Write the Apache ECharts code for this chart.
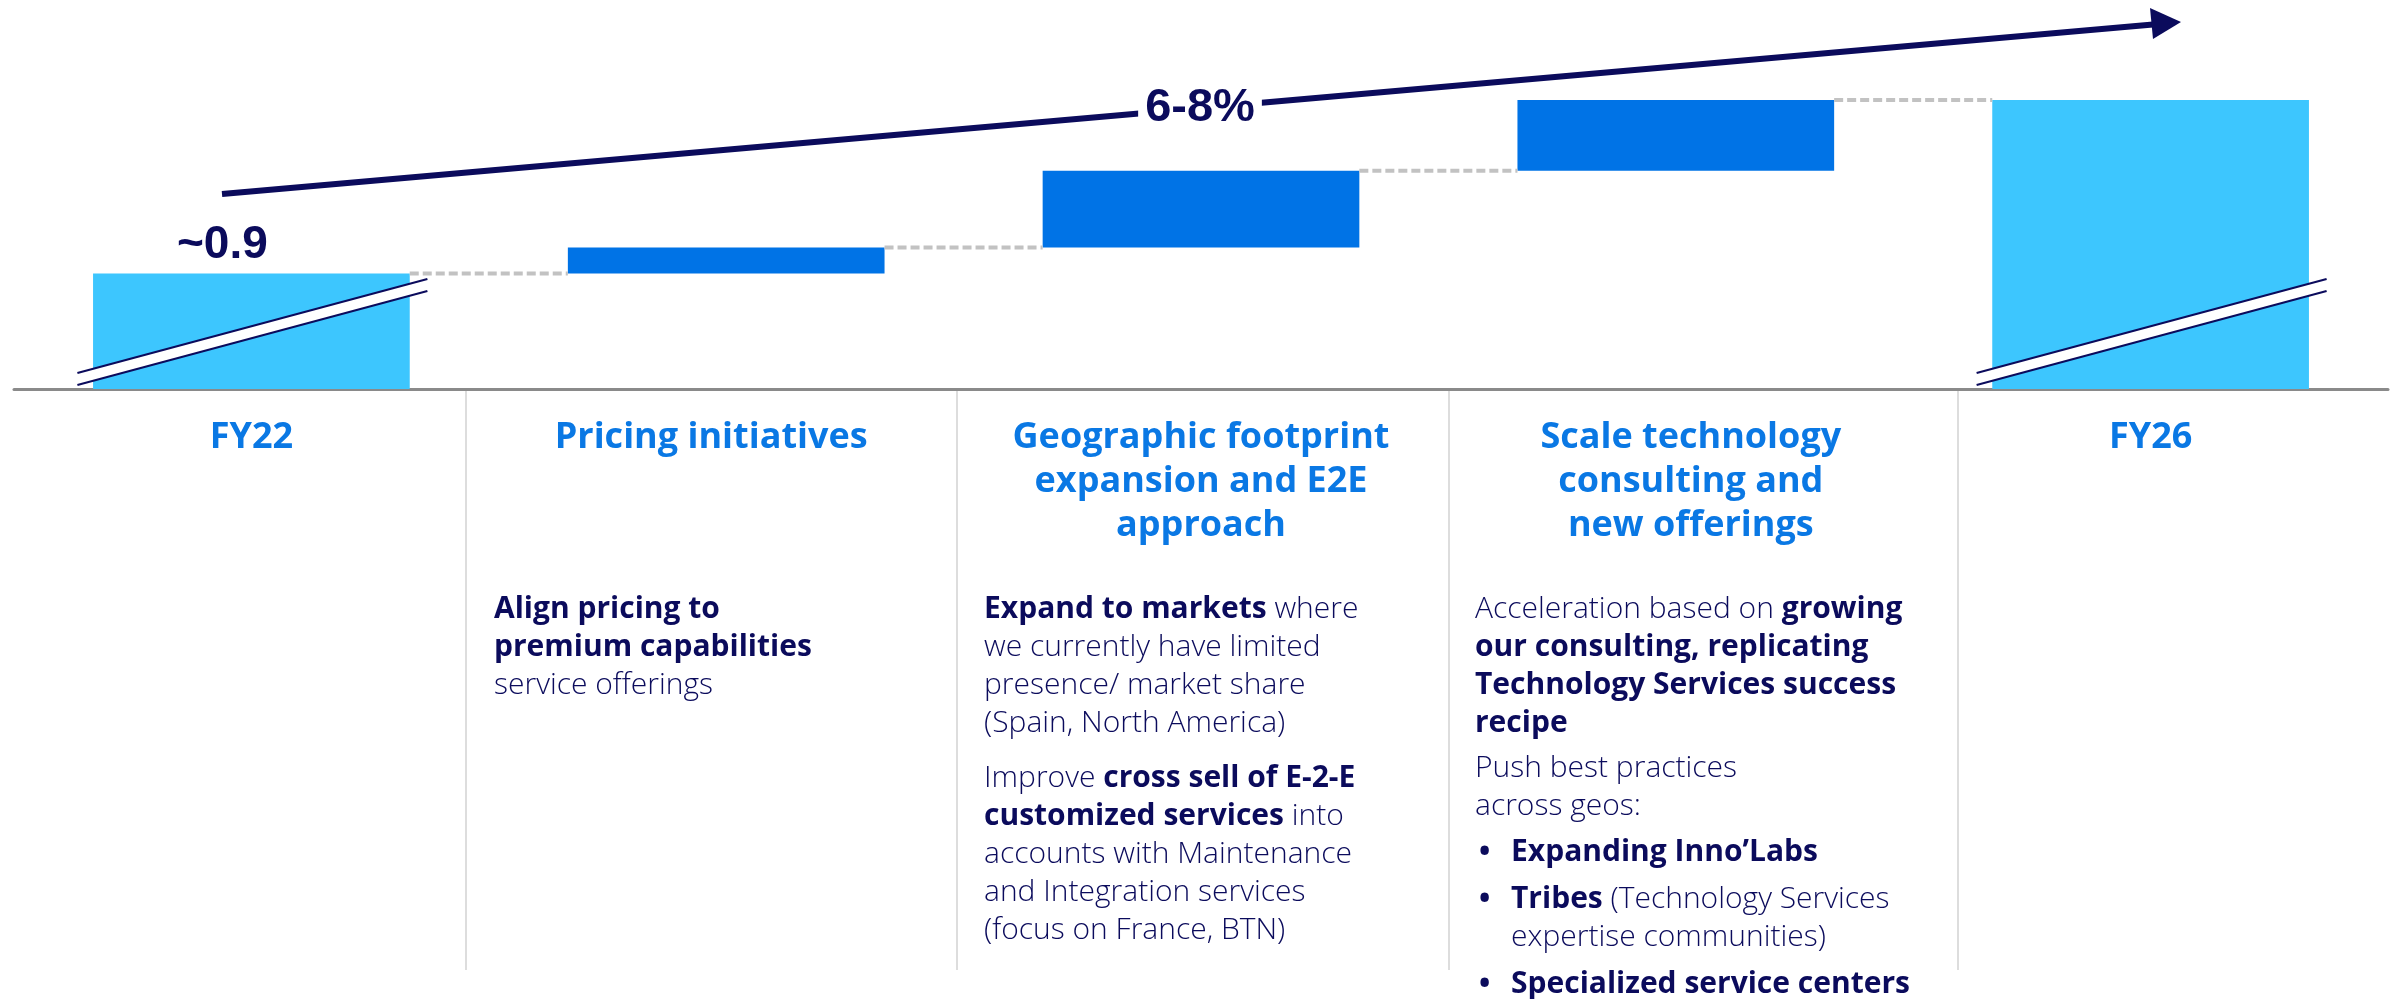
<!DOCTYPE html>
<html>
<head>
<meta charset="utf-8">
<script src="https://cdn.jsdelivr.net/npm/echarts@6/dist/echarts.min.js"></script>
<style>
  html, body { margin: 0; padding: 0; background: #fff; }
  #chart { width: 2397px; height: 999px; }
</style>
</head>
<body>
<div id="chart"></div>
<script>
// waterfall steps, schematic heights (the total bars have a broken axis)
const categories = [
  'FY22',
  'Pricing initiatives',
  'Geographic footprint\nexpansion and E2E\napproach',
  'Scale technology\nconsulting and\nnew offerings',
  'FY26'
]
const barValues = [11.6, 2.6, 7.7, 7.1, 29.0]
const isTotal = [true, false, false, false, true]
const valueLabels = ['~0.9', '', '', '', '']
const cagrLabel = '6-8%'

// body text under each column, one array per paragraph
const pricingNotes = [
  ['{b|Align pricing to}', '{b|premium capabilities}', '{r|service offerings}']
]
const geoNotes = [
  ['{b|Expand to markets}{r| where}', '{r|we currently have limited}', '{r|presence/ market share}', '{r|(Spain, North America)}'],
  ['{r|Improve }{b|cross sell of E-2-E}', '{b|customized services}{r| into}', '{r|accounts with Maintenance}', '{r|and Integration services}', '{r|(focus on France, BTN)}']
]
const scaleNotes = [
  ['{r|Acceleration based on }{b|growing}', '{b|our consulting, replicating}', '{b|Technology Services success}', '{b|recipe}'],
  ['{r|Push best practices}', '{r|across geos:}']
]
const scaleBullets = [
  ['{b|Expanding Inno\u2019Labs}'],
  ['{b|Tribes}{r| (Technology Services}', '{r|expertise communities)}'],
  ['{b|Specialized service centers}']
]

const NAVY = '#0b0b5c'
const LIGHT = '#3dc6fe'
const DARK = '#0073e6'
const BAR_RATIO = 0.667
const dividers = [466, 957, 1449, 1958]
const TEXT_TOP = 590
const LINE_H = 38

// invisible base for the floating bars
const bases = []
let run = 0
barValues.forEach((v, i) => {
  bases.push(isTotal[i] ? 0 : run)
  run = isTotal[i] ? v : run + v
})
const connectors = barValues.slice(0, -1).map((v, i) => [i, bases[i] + v])

const chart = echarts.init(document.getElementById('chart'))

const richText = {
  b: { fontFamily: 'Open Sans', fontSize: 30, fontWeight: 'bold', fill: NAVY, lineHeight: LINE_H },
  r: { fontFamily: 'Open Sans', fontSize: 30, fontWeight: 300, fill: NAVY, lineHeight: LINE_H }
}

const textBlock = (x, y, lines) => ({
  type: 'text',
  x, y,
  style: { text: lines.join('\n'), rich: richText, verticalAlign: 'top', lineHeight: LINE_H, fill: NAVY }
})

const graphics = []
dividers.forEach((x) => {
  graphics.push({ type: 'line', shape: { x1: x, y1: 391, x2: x, y2: 970 }, style: { stroke: '#d2d2d2', lineWidth: 1.5 } })
})

const layoutParas = (x, paras, gap, y0) => {
  let y = y0
  paras.forEach((p) => {
    graphics.push(textBlock(x, y, p))
    y += p.length * LINE_H + gap
  })
  return y
}
layoutParas(dividers[0] + 28, pricingNotes, 17, TEXT_TOP)
layoutParas(dividers[1] + 27, geoNotes, 17, TEXT_TOP)
let yb = layoutParas(dividers[2] + 26, scaleNotes, 7, TEXT_TOP) + 1
scaleBullets.forEach((p) => {
  graphics.push(textBlock(dividers[2] + 30, yb, ['{b|\u2022}']))
  graphics.push(textBlock(dividers[2] + 62, yb, p))
  yb += p.length * LINE_H + 9
})

// growth arrow
graphics.push(
  { type: 'line', shape: { x1: 222, y1: 194, x2: 2153, y2: 24.4 }, style: { stroke: NAVY, lineWidth: 6 } },
  { type: 'polygon', shape: { points: [[2181, 22], [2150, 8], [2153, 39]] }, style: { fill: NAVY } },
  {
    type: 'text', x: 1200, y: 108,
    style: {
      text: cagrLabel, align: 'center', verticalAlign: 'middle',
      fontFamily: 'Liberation Sans', fontSize: 47, fontWeight: 'bold', fill: NAVY,
      backgroundColor: '#fff', padding: [0, 7]
    }
  }
)

const headingShift = [0, -15, 0, 15, 0]

chart.setOption({
  animation: false,
  grid: { left: 14, right: 9, top: 100, bottom: 610 },
  xAxis: {
    type: 'category',
    data: categories.map((c, i) => ({
      value: c,
      textStyle: { padding: headingShift[i] < 0 ? [0, -2 * headingShift[i], 0, 0] : [0, 0, 0, 2 * headingShift[i]] }
    })),
    axisLine: { lineStyle: { color: '#8a8a8a', width: 3 } },
    axisTick: { show: false },
    axisLabel: {
      interval: 0,
      margin: 27,
      color: '#0a78e4',
      fontFamily: 'Open Sans',
      fontWeight: 'bold',
      fontSize: 36,
      lineHeight: 44
    }
  },
  yAxis: { type: 'value', min: 0, max: 29, show: false },
  series: [
    {
      type: 'bar', stack: 'wf', barWidth: BAR_RATIO * 100 + '%',
      itemStyle: { color: 'transparent' },
      data: bases
    },
    {
      type: 'bar', stack: 'wf',
      data: barValues.map((v, i) => ({ value: v, itemStyle: { color: isTotal[i] ? LIGHT : DARK } })),
      label: {
        show: true, position: 'top', distance: 5, offset: [-29, 0],
        formatter: (p) => valueLabels[p.dataIndex],
        fontFamily: 'Liberation Sans', fontSize: 46, fontWeight: 'bold', color: NAVY
      }
    },
    {
      type: 'custom',
      z: 5,
      encode: { x: 0, y: 1 },
      data: connectors,
      renderItem: (params, api) => {
        const a = api.coord([api.value(0), api.value(1)])
        const b = api.coord([api.value(0) + 1, api.value(1)])
        const half = api.size([1, 0])[0] * BAR_RATIO / 2
        return {
          type: 'line',
          shape: { x1: a[0] + half, y1: a[1], x2: b[0] - half, y2: a[1] },
          style: { stroke: '#c2c2c2', lineWidth: 4, lineDash: [9, 4] }
        }
      }
    },
    {
      // axis break marks on the total bars
      type: 'custom',
      z: 5,
      encode: { x: 0, y: 1 },
      data: isTotal.map((t, i) => (t ? [i, 0] : null)).filter(Boolean),
      renderItem: (params, api) => {
        const p = api.coord([api.value(0), 0])
        const cx = p[0], by = p[1]
        const l = cx - 174, r = cx + 176
        return {
          type: 'group',
          children: [
            { type: 'polygon', shape: { points: [[l, by - 16], [r, by - 110], [r, by - 98], [l, by - 4]] }, style: { fill: '#fff' } },
            { type: 'line', shape: { x1: l, y1: by - 16, x2: r, y2: by - 110 }, style: { stroke: NAVY, lineWidth: 2 } },
            { type: 'line', shape: { x1: l, y1: by - 4, x2: r, y2: by - 98 }, style: { stroke: NAVY, lineWidth: 2 } }
          ]
        }
      }
    }
  ],
  graphic: graphics
})
</script>
</body>
</html>
